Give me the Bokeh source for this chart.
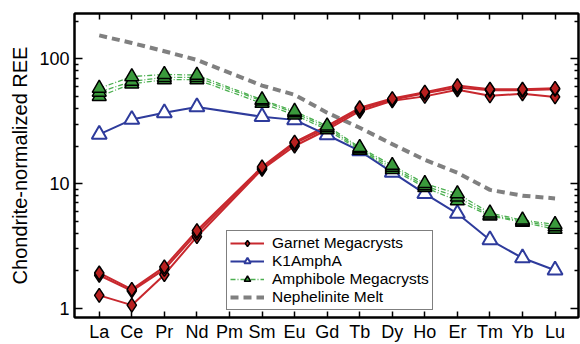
from bokeh.plotting import figure
from bokeh.models import (Range1d, FixedTicker, LinearAxis, LogAxis, Legend, LegendItem,
                          NumeralTickFormatter, ColumnDataSource)
from bokeh.embed import file_html
from bokeh.resources import INLINE

# ---------------- data ----------------
elements = ["La", "Ce", "Pr", "Nd", "Pm", "Sm", "Eu", "Gd", "Tb", "Dy", "Ho", "Er", "Tm", "Yb", "Lu"]
measured = ["La", "Ce", "Pr", "Nd", "Sm", "Eu", "Gd", "Tb", "Dy", "Ho", "Er", "Tm", "Yb", "Lu"]

garnet_1 = [1.92, 1.42, 2.15, 4.2, 13.6, 21.5, 29.0, 40.5, 48.0, 54.0, 61.0, 57.0, 57.0, 58.0]
garnet_2 = [1.84, 1.38, 2.05, 4.0, 13.3, 21.0, 28.0, 39.5, 47.0, 53.0, 59.0, 56.0, 56.0, 57.0]
garnet_3 = [1.27, 1.06, 1.86, 3.75, 13.0, 20.0, 27.0, 38.0, 46.0, 50.0, 56.5, 50.5, 52.5, 49.5]
k1ampha = [24.8, 32.6, 36.9, 41.1, 34.3, 32.4, 24.5, 18.3, 12.3, 8.3, 5.75, 3.53, 2.53, 2.02]
amph_1 = [58.0, 72.0, 75.0, 74.0, 47.0, 38.0, 29.0, 19.5, 14.0, 10.0, 8.3, 5.8, 5.1, 4.7]
amph_2 = [54.0, 66.0, 71.0, 71.0, 46.0, 37.0, 28.0, 19.0, 13.5, 9.6, 7.8, 5.6, 5.0, 4.5]
amph_3 = [50.0, 63.0, 68.0, 68.0, 44.0, 35.5, 27.0, 18.5, 13.0, 9.3, 7.3, 5.5, 4.9, 4.3]
nephelinite = [154.0, 134.0, 115.0, 98.0, 61.0, 51.5, 37.0, 28.0, 20.7, 15.5, 12.2, 8.9, 8.0, 7.6]

y_major = [1, 10, 100]
y_minor = [2, 3, 4, 5, 6, 7, 8, 9, 20, 30, 40, 50, 60, 70, 80, 90, 200]

x = [elements.index(e) for e in measured]

FONT = "Liberation Sans"
RED, RED_FILL = "#c8282e", "#b8201f"
BLUE = "#2e3b9c"
GREEN_LINE, GREEN_FILL = "#4caf50", "#3a9a3c"
GRAY = "#808080"

p = figure(width=580, height=344, y_axis_type="log",
           x_range=Range1d(-0.76, 14.72), y_range=Range1d(0.844, 230.8),
           output_backend="svg", toolbar_location=None,
           min_border_left=74, min_border_right=2, min_border_top=13, min_border_bottom=24)
p.xgrid.visible = False
p.ygrid.visible = False
p.outline_line_color = "black"
p.outline_line_width = 2
p.background_fill_color = "white"
p.border_fill_color = "white"

xticker = FixedTicker(ticks=list(range(len(elements))))
yticker = FixedTicker(ticks=y_major, minor_ticks=y_minor)

# bottom axis
xa = p.xaxis[0]
xa.ticker = xticker
xa.major_label_overrides = {i: e for i, e in enumerate(elements)}
xa.major_label_text_font = FONT
xa.major_label_text_font_size = "18px"
xa.major_label_text_color = "black"
xa.major_tick_in = 6
xa.major_tick_out = 0
xa.minor_tick_line_color = None
xa.major_label_standoff = 4
xa.axis_line_width = 2
xa.major_tick_line_width = 1.5

# left axis
ya = p.yaxis[0]
ya.ticker = yticker
ya.formatter = NumeralTickFormatter(format="0")
ya.major_label_text_font = FONT
ya.major_label_text_font_size = "18px"
ya.major_label_text_color = "black"
ya.major_tick_in = 8
ya.major_tick_out = 0
ya.minor_tick_in = 4
ya.minor_tick_out = 0
ya.major_label_standoff = 5
ya.axis_line_width = 2
ya.major_tick_line_width = 1.5
ya.minor_tick_line_width = 1.5
ya.axis_label = "Chondrite-normalized REE"
ya.axis_label_text_font = FONT
ya.axis_label_text_font_size = "20px"
ya.axis_label_text_font_style = "normal"
ya.axis_label_text_color = "black"
ya.axis_label_standoff = 5

# top and right axes: ticks only (labels not drawn)
top = LinearAxis(ticker=xticker, major_label_text_font_size="1px", major_label_text_color=None,
                 major_label_standoff=0, major_tick_in=6, major_tick_out=0,
                 minor_tick_line_color=None, axis_line_width=2, major_tick_line_width=1.5)
p.add_layout(top, "above")
right = LogAxis(ticker=yticker, major_label_text_font_size="1px", major_label_text_color=None,
                major_label_standoff=0, major_tick_in=8, major_tick_out=0,
                minor_tick_in=4, minor_tick_out=0,
                axis_line_width=2, major_tick_line_width=1.5, minor_tick_line_width=1.5)
p.add_layout(right, "right")

# ---------------- glyphs ----------------
neph = p.line(x, nephelinite, line_color=GRAY, line_width=4, line_dash="8 5")

g_lines, g_marks = [], []
for s in (garnet_3, garnet_2, garnet_1):
    src = ColumnDataSource(dict(x=x, y=s))
    g_lines.append(p.line("x", "y", source=src, line_color=RED, line_width=2))
for s in (garnet_3, garnet_2, garnet_1):
    src = ColumnDataSource(dict(x=x, y=s))
    g_marks.append(p.scatter("x", "y", source=src, marker="diamond", size=14,
                             fill_color=RED_FILL, line_color="black", line_width=1.5))

k_line = p.line(x, k1ampha, line_color=BLUE, line_width=2)
k_mark = p.scatter(x, k1ampha, marker="triangle", size=15, fill_color="white",
                   line_color=BLUE, line_width=2)

a_lines, a_marks = [], []
for s in (amph_3, amph_2, amph_1):
    src = ColumnDataSource(dict(x=x, y=s))
    a_lines.append(p.line("x", "y", source=src, line_color=GREEN_LINE, line_width=1.3,
                          line_dash="5 2 1 2"))
for s in (amph_3, amph_2, amph_1):
    src = ColumnDataSource(dict(x=x, y=s))
    a_marks.append(p.scatter("x", "y", source=src, marker="triangle", size=14,
                             fill_color=GREEN_FILL, line_color="black", line_width=1.5))

legend = Legend(items=[
    LegendItem(label="Garnet Megacrysts", renderers=[g_lines[0], g_marks[0]]),
    LegendItem(label="K1AmphA", renderers=[k_line, k_mark]),
    LegendItem(label="Amphibole Megacrysts", renderers=[a_lines[0], a_marks[0]]),
    LegendItem(label="Nephelinite Melt", renderers=[neph]),
], location=(152, 7))
legend.label_text_font = FONT
legend.label_text_font_size = "15.5px"
legend.label_text_color = "black"
legend.label_height = 16
legend.glyph_height = 16
legend.glyph_width = 34
legend.spacing = 0
legend.padding = 3
legend.label_standoff = 8
legend.border_line_color = "black"
legend.border_line_width = 1.5
legend.background_fill_alpha = 1
legend.margin = 0
p.add_layout(legend)

open("out.html", "w").write(file_html(p, INLINE))
